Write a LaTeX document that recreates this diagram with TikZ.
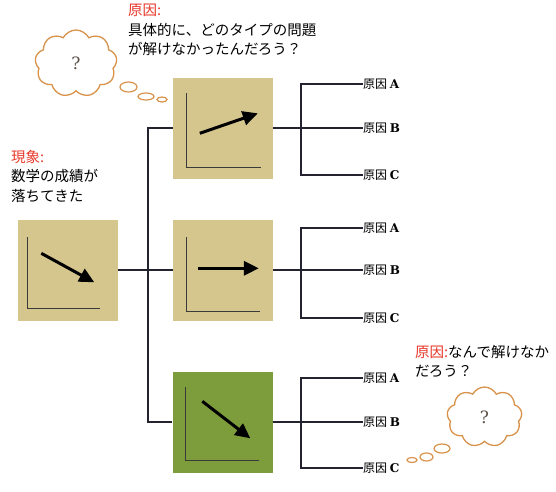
\documentclass[tikz,border=0pt]{standalone}
\usepackage{fontspec}
\setmainfont{Noto Sans CJK JP}
\newfontfamily\slab{DejaVu Serif}
\usetikzlibrary{shapes.symbols,shapes.geometric,arrows.meta,calc}
\definecolor{tanfill}{HTML}{D5C68E}
\definecolor{grnfill}{HTML}{7D9C3C}
\definecolor{redt}{HTML}{E8382A}
\definecolor{cloudo}{HTML}{D9924A}
\definecolor{linec}{HTML}{23232F}
\definecolor{axisc}{HTML}{3A3A3A}
\definecolor{qmark}{HTML}{5A5048}
\tikzset{
 chart/.style={minimum width=100pt, minimum height=101pt, inner sep=0pt, draw=none, fill=tanfill},
 conn/.style={draw=linec, line width=1.3pt},
 axisl/.style={draw=axisc, line width=0.7pt},
 trend/.style={line width=3pt, -{Triangle[length=15pt,width=14pt]}},
 causelbl/.style={anchor=west, inner sep=0pt, font=\fontsize{12}{14}\selectfont},
 thought/.style={cloud, cloud puffs=9, cloud puff arc=125, draw=cloudo, fill=white, line width=1.3pt, inner sep=0pt, text=qmark, font=\slab\fontsize{17}{18}\selectfont},
 bubble/.style={ellipse, draw=cloudo, line width=1.2pt, fill=white, inner sep=0pt},
 note/.style={anchor=north west, align=left, inner sep=0pt, font=\fontsize{14.5}{19.5}\selectfont},
}
\begin{document}
\begin{tikzpicture}[x=1pt,y=-1pt]
\useasboundingbox (0,0) rectangle (556,491);

% charts
\node[chart] (src) at (67.5,270) {};
\node[chart] (c1) at (223,128) {};
\node[chart] (c2) at (223,270) {};
\node[chart, fill=grnfill] (c3) at (222.5,422) {};

% axes
\draw[axisl] ($(src.north west)+(10,18)$) |- ($(src.north west)+(83,89)$);
\draw[axisl] ($(c1.north west)+(14,16)$) |- ($(c1.north west)+(88,90)$);
\draw[axisl] ($(c2.north west)+(14,18)$) |- ($(c2.north west)+(87,92)$);
\draw[axisl] ($(c3.north west)+(13,16)$) |- ($(c3.north west)+(87,89)$);

% trend arrows
\draw[trend] ($(src.north west)+(24,34)$) -- ($(src.north west)+(77,63)$);
\draw[trend] ($(c1.north west)+(27,56)$) -- ($(c1.north west)+(85,36)$);
\draw[trend] ($(c2.north west)+(25,49)$) -- ($(c2.north west)+(86,49)$);
\draw[trend] ($(c3.north west)+(30,30)$) -- ($(c3.north west)+(78,67)$);

% trunk
\coordinate (j) at (148,270);
\draw[conn] (src.east) -- (c2.west);
\draw[conn] (c1.west) -| (j) |- (c3.west);

% cause branches
\foreach \g/\ya/\yc in {c1/84/175, c2/228/318, c3/378/468}{
  \node[causelbl] (\g-a) at (363,\ya) {原因 {\slab\bfseries A}};
  \node[causelbl] (\g-b) at (\g.east -| 363,0) {原因 {\slab\bfseries B}};
  \node[causelbl] (\g-c) at (363,\yc) {原因 {\slab\bfseries C}};
  \coordinate (\g-ta) at (301,\ya);
  \coordinate (\g-tc) at (301,\yc);
  \draw[conn] (\g-a.west) -- (\g-ta) -- (\g-tc) -- (\g-c.west);
  \draw[conn] (\g.east) -- (\g-b.west);
}

% thought clouds
\node[thought, minimum width=82pt, minimum height=67pt] (q1) at (76,63.5) {?};
\node[bubble, minimum width=17pt, minimum height=10pt] (q1b1) at (128.5,87) {};
\node[bubble, minimum width=16pt, minimum height=7pt] (q1b2) at (146,96.5) {};
\node[bubble, minimum width=10pt, minimum height=5pt] (q1b3) at (162,99.5) {};

\node[thought, minimum width=75pt, minimum height=60pt] (q2) at (484.5,417) {?};
\node[bubble, minimum width=16pt, minimum height=9pt] (q2b1) at (442,448.5) {};
\node[bubble, minimum width=13pt, minimum height=8pt] (q2b2) at (426.5,457) {};
\node[bubble, minimum width=10pt, minimum height=5pt] (q2b3) at (412,460) {};

% notes
\node[note] (n1) at (128,4) {{\color{redt}原因:}\\具体的に、どのタイプの問題\\が解けなかったんだろう？};
\node[note] (n2) at (11,150) {{\color{redt}現象:}\\数学の成績が\\落ちてきた};
\node[note] (n3) at (415,345) {{\color{redt}原因:}なんで解けなか\\だろう？};
\end{tikzpicture}
\end{document}
